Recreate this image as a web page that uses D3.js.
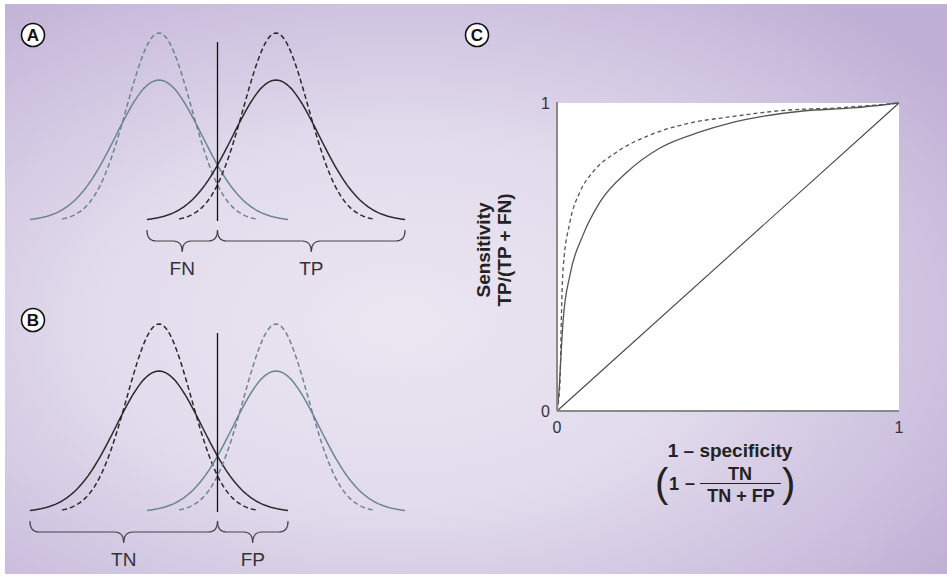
<!DOCTYPE html>
<html>
<head>
<meta charset="utf-8">
<script src="https://cdn.jsdelivr.net/npm/d3@7"></script>
<style>
  body { margin: 0; background: #fff; }
  svg { display: block; font-family: "Liberation Sans", Arial, sans-serif; }
</style>
</head>
<body>
<svg width="947" height="577"></svg>
<script>
// Constants for dimensions
const width = 947;
const height = 577;

// Data: two classes (negative / positive), each drawn wide (solid) and narrow (dashed)
const classMeans = [0, 2.72];
const spreadSds = [1, 0.75];          // solid, dashed
const spreadDash = [null, '5,3'];
const threshold = 1.36;
const braceLabelsA = ['FN', 'TP'];
const braceLabelsB = ['TN', 'FP'];

// ROC curves
const rocFprSolid = [0, 0.006, 0.012, 0.018, 0.038, 0.076, 0.126, 0.205, 0.301, 0.418, 0.506, 0.573, 0.719, 0.865, 1];
const rocTprSolid = [0, 0.068, 0.188, 0.295, 0.442, 0.571, 0.679, 0.776, 0.854, 0.906, 0.935, 0.951, 0.974, 0.984, 1];
const rocFprDashed = [0, 0.009, 0.012, 0.015, 0.018, 0.038, 0.067, 0.105, 0.175, 0.272, 0.389, 0.506, 0.673, 0.819, 1];
const rocTprDashed = [0, 0.10, 0.263, 0.393, 0.464, 0.614, 0.711, 0.776, 0.841, 0.896, 0.935, 0.955, 0.977, 0.984, 1];
const rocTicks = [0, 1];

const grey = '#6b8591';
const dark = '#2a2a2a';

const svg = d3.select('svg');

// Background gradient
const defs = svg.append('defs');
const grad = defs.append('radialGradient').attr('id', 'bg')
    .attr('cx', 0.42).attr('cy', 0.56).attr('r', 0.72);
grad.append('stop').attr('offset', 0).attr('stop-color', '#ebe6f2');
grad.append('stop').attr('offset', 0.45).attr('stop-color', '#e2dbec');
grad.append('stop').attr('offset', 0.8).attr('stop-color', '#cdc1df');
grad.append('stop').attr('offset', 1).attr('stop-color', '#c0b0d5');

svg.append('rect')
    .attr('x', 5).attr('y', 4)
    .attr('width', width - 5).attr('height', 570)
    .attr('fill', 'url(#bg)');

// Circled panel letters
function panelLetter(x, y, letter) {
    const g = svg.append('g').attr('transform', `translate(${x},${y})`);
    g.append('circle').attr('r', 11.5).attr('fill', '#fff')
        .attr('stroke', '#111').attr('stroke-width', 1.6);
    g.append('text').attr('text-anchor', 'middle').attr('dy', '0.36em')
        .attr('font-size', 17).attr('font-weight', 'bold').attr('fill', '#111')
        .text(letter);
}

// Curly brace under a range
function brace(x1, x2, y0) {
    const mid = (x1 + x2) / 2;
    const yb = y0 + 11, yt = y0 + 22, r = 9;
    return `M${x1},${y0} Q${x1},${yb} ${x1 + r},${yb} L${mid - r},${yb} ` +
        `Q${mid},${yb} ${mid},${yt} Q${mid},${yb} ${mid + r},${yb} ` +
        `L${x2 - r},${yb} Q${x2},${yb} ${x2},${y0}`;
}

function normalPdf(x, mu, sd) {
    return Math.exp(-0.5 * ((x - mu) / sd) ** 2) / (sd * Math.sqrt(2 * Math.PI));
}

// Density panel (A or B)
function densityPanel(yOffset, classColours, labels) {
    const xScale = d3.scaleLinear().domain([0, classMeans[1]]).range([159, 276]);
    const yScale = d3.scaleLinear().domain([0, normalPdf(0, 0, 1)]).range([221 + yOffset, 80 + yOffset]);
    const line = d3.line().x(d => xScale(d[0])).y(d => yScale(d[1]));
    const g = svg.append('g');

    classMeans.forEach((mu, ci) => {
        spreadSds.forEach((sd, si) => {
            const pts = d3.range(0, 121).map(i => {
                const x = mu - 3 * sd + i * (6 * sd / 120);
                return [x, normalPdf(x, mu, sd)];
            });
            g.append('path')
                .attr('d', line(pts))
                .attr('fill', 'none')
                .attr('stroke', classColours[ci])
                .attr('stroke-width', 1.5)
                .attr('stroke-dasharray', spreadDash[si]);
        });
    });

    // threshold
    g.append('line')
        .attr('x1', xScale(threshold)).attr('x2', xScale(threshold))
        .attr('y1', 42 + yOffset).attr('y2', 221 + yOffset)
        .attr('stroke', '#111').attr('stroke-width', 1.3);

    // braces
    const left = xScale(classMeans[0] - 3), right = xScale(classMeans[1] + 3), cut = xScale(threshold);
    const spans = yOffset === 0
        ? [[xScale(classMeans[1] - 3), cut], [cut, right]]
        : [[left, cut], [cut, xScale(classMeans[0] + 3)]];
    spans.forEach((s, i) => {
        g.append('path').attr('d', brace(s[0], s[1], 230 + yOffset))
            .attr('fill', 'none').attr('stroke', '#444').attr('stroke-width', 1.2);
        g.append('text')
            .attr('x', (s[0] + s[1]) / 2).attr('y', 275 + yOffset)
            .attr('text-anchor', 'middle').attr('font-size', 19).attr('fill', '#333')
            .text(labels[i]);
    });
}

densityPanel(0, [grey, dark], braceLabelsA);
densityPanel(291, [dark, grey], braceLabelsB);

panelLetter(33, 35, 'A');
panelLetter(33, 320, 'B');
panelLetter(477, 35, 'C');

// ROC panel
const rx = d3.scaleLinear().domain([0, 1]).range([557, 899]);
const ry = d3.scaleLinear().domain([0, 1]).range([411, 103]);
const roc = svg.append('g');

roc.append('rect')
    .attr('x', rx(0)).attr('y', ry(1))
    .attr('width', rx(1) - rx(0)).attr('height', ry(0) - ry(1))
    .attr('fill', '#fff');

const rocLine = d3.line().x(d => rx(d[0])).y(d => ry(d[1])).curve(d3.curveMonotoneX);

roc.append('path')
    .attr('d', rocLine([[0, 0], [1, 1]]))
    .attr('stroke', '#444').attr('stroke-width', 1.1).attr('fill', 'none');

roc.append('path')
    .attr('d', rocLine(rocFprSolid.map((f, i) => [f, rocTprSolid[i]])))
    .attr('stroke', '#555').attr('stroke-width', 1.3).attr('fill', 'none');

roc.append('path')
    .attr('d', rocLine(rocFprDashed.map((f, i) => [f, rocTprDashed[i]])))
    .attr('stroke', '#555').attr('stroke-width', 1.3).attr('fill', 'none')
    .attr('stroke-dasharray', '4,3');

// axes lines
roc.append('line').attr('x1', rx(0)).attr('x2', rx(0)).attr('y1', ry(1) - 1).attr('y2', ry(0))
    .attr('stroke', '#8a8a8a').attr('stroke-width', 2);
roc.append('line').attr('x1', rx(0)).attr('x2', rx(1)).attr('y1', ry(0)).attr('y2', ry(0))
    .attr('stroke', '#8a8a8a').attr('stroke-width', 2);

// tick labels
roc.selectAll('.ytick').data(rocTicks).join('text')
    .attr('class', 'ytick')
    .attr('x', rx(0) - 7).attr('y', d => ry(d)).attr('dy', '0.35em')
    .attr('text-anchor', 'end').attr('font-size', 16).attr('fill', '#333')
    .text(d => d);
roc.selectAll('.xtick').data(rocTicks).join('text')
    .attr('class', 'xtick')
    .attr('x', d => rx(d)).attr('y', ry(0) + 16).attr('dy', '0.35em')
    .attr('text-anchor', 'middle').attr('font-size', 16).attr('fill', '#333')
    .text(d => d);

// y title
const yTitle = roc.append('g').attr('transform', 'translate(490,250) rotate(-90)')
    .attr('font-weight', 'bold').attr('font-size', 19).attr('fill', '#222')
    .attr('text-anchor', 'middle');
yTitle.append('text').attr('y', 0).text('Sensitivity');
yTitle.append('text').attr('y', 21).text('TP/(TP + FN)');

// x title
const xTitle = roc.append('g').attr('font-weight', 'bold').attr('fill', '#222');
xTitle.append('text').attr('x', 730).attr('y', 457).attr('text-anchor', 'middle')
    .attr('font-size', 19).text('1 – specificity');
xTitle.append('text').attr('x', 655).attr('y', 497).attr('font-size', 40)
    .attr('font-weight', 'normal').text('(');
xTitle.append('text').attr('x', 674).attr('y', 490).attr('text-anchor', 'middle')
    .attr('font-size', 18).text('1');
xTitle.append('text').attr('x', 690).attr('y', 489).attr('text-anchor', 'middle')
    .attr('font-size', 18).text('–');
xTitle.append('line').attr('x1', 700).attr('x2', 781).attr('y1', 483.5).attr('y2', 483.5)
    .attr('stroke', '#222').attr('stroke-width', 1);
xTitle.append('text').attr('x', 740).attr('y', 480).attr('text-anchor', 'middle')
    .attr('font-size', 18).text('TN');
xTitle.append('text').attr('x', 741).attr('y', 502).attr('text-anchor', 'middle')
    .attr('font-size', 18).text('TN + FP');
xTitle.append('text').attr('x', 782).attr('y', 497).attr('font-size', 40)
    .attr('font-weight', 'normal').text(')');
</script>
</body>
</html>
